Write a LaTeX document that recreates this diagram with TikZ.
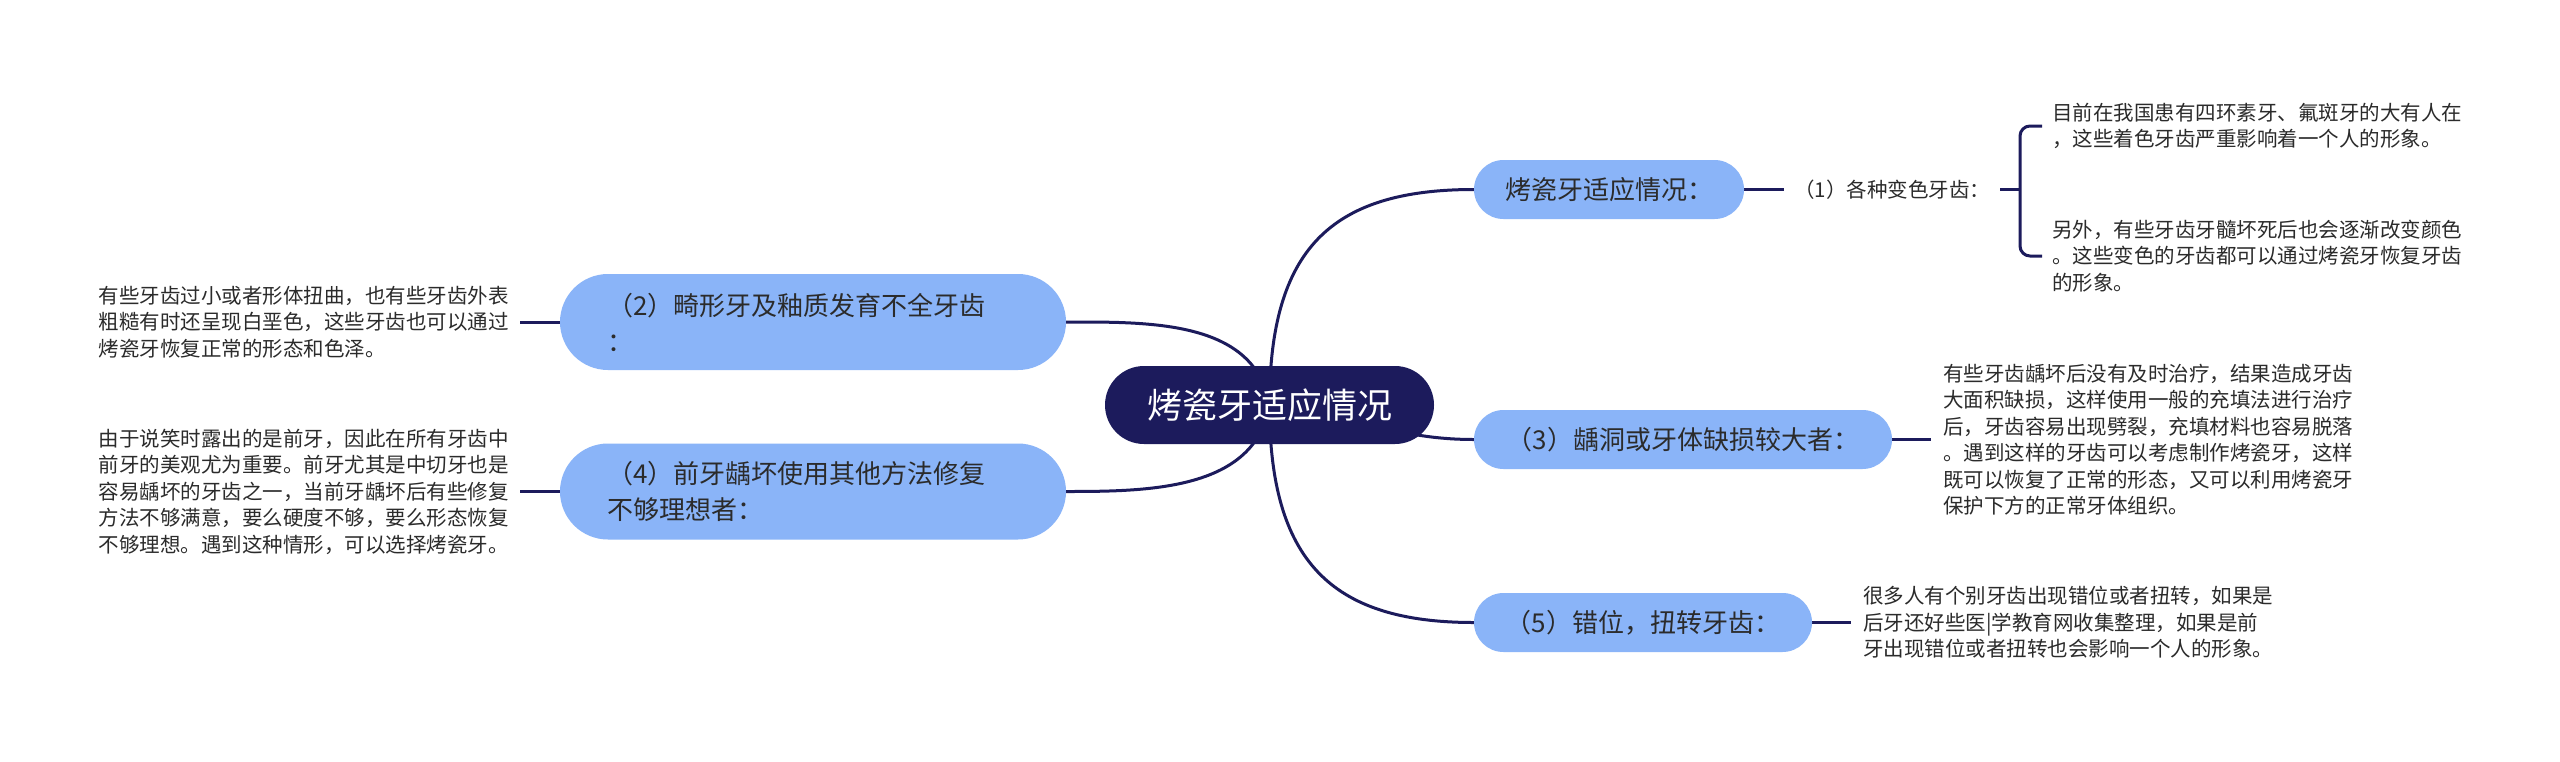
\documentclass[tikz,border=0pt]{standalone}
\usepackage{fontspec}
\setmainfont{Noto Sans CJK SC}
\pgfdeclarelayer{bg}
\pgfsetlayers{bg,main}
\definecolor{navy}{HTML}{1C1B5C}
\definecolor{branchblue}{HTML}{8AB4F8}
\definecolor{txt}{HTML}{2B2B2B}
\tikzset{
  rootbox/.style={fill=navy, text=white, rounded corners=39pt, minimum width=329pt, minimum height=78pt, inner sep=0pt, font=\fontsize{35}{42}\selectfont},
  branchbox/.style={fill=branchblue, text=txt, inner sep=0pt, font=\fontsize{26}{36}\selectfont},
  onebranch/.style={branchbox, rounded corners=29.5pt, minimum height=59pt},
  twobranch/.style={branchbox, rounded corners=48pt, minimum height=96pt, text width=412pt, inner xsep=47pt, align=left},
  leafnote/.style={text=txt, align=left, inner ysep=0pt, font=\fontsize{20.5}{26.5}\selectfont},
  conn/.style={draw=navy, line width=3pt},
}
\begin{document}
\begin{tikzpicture}[x=1pt,y=-1pt]
\useasboundingbox (0,0) rectangle (2560,761);
\begin{pgfonlayer}{bg}
\fill[white] (0,0) rectangle (2560,761);
\end{pgfonlayer}

\node[rootbox] (root) at (1269.5,405) {烤瓷牙适应情况};

\node[onebranch, minimum width=270pt] (n1) at (1609,189.5) {烤瓷牙适应情况：};
\node[onebranch, minimum width=418pt] (n3) at (1683,439.5) {（3）龋洞或牙体缺损较大者：};
\node[onebranch, minimum width=338pt] (n5) at (1643,622.5) {（5）错位，扭转牙齿：};
\node[twobranch] (n2) at (813,322) {（2）畸形牙及釉质发育不全牙齿\\：};
\node[twobranch] (n4) at (813,491.5) {（4）前牙龋坏使用其他方法修复\\不够理想者：};

\node[leafnote, anchor=west, inner xsep=10pt] (l1) at (1784,189.5) {（1）各种变色牙齿：};
\node[leafnote, anchor=west, inner xsep=10pt] (t1a) at (2042,126) {目前在我国患有四环素牙、氟斑牙的大有人在\\，这些着色牙齿严重影响着一个人的形象。};
\node[leafnote, anchor=west, inner xsep=10pt] (t1b) at (2042,256) {另外，有些牙齿牙髓坏死后也会逐渐改变颜色\\。这些变色的牙齿都可以通过烤瓷牙恢复牙齿\\的形象。};
\node[leafnote, anchor=west, inner xsep=12pt] (t3) at (1931,439.5) {有些牙齿龋坏后没有及时治疗，结果造成牙齿\\大面积缺损，这样使用一般的充填法进行治疗\\后，牙齿容易出现劈裂，充填材料也容易脱落\\。遇到这样的牙齿可以考虑制作烤瓷牙，这样\\既可以恢复了正常的形态，又可以利用烤瓷牙\\保护下方的正常牙体组织。};
\node[leafnote, anchor=west, inner xsep=12pt] (t5) at (1851,622.5) {很多人有个别牙齿出现错位或者扭转，如果是\\后牙还好些医|学教育网收集整理，如果是前\\牙出现错位或者扭转也会影响一个人的形象。};
\node[leafnote, anchor=east, inner xsep=11pt] (t2) at (520,322) {有些牙齿过小或者形体扭曲，也有些牙齿外表\\粗糙有时还呈现白垩色，这些牙齿也可以通过\\烤瓷牙恢复正常的形态和色泽。};
\node[leafnote, anchor=east, inner xsep=11pt] (t4) at (520,491.5) {由于说笑时露出的是前牙，因此在所有牙齿中\\前牙的美观尤为重要。前牙尤其是中切牙也是\\容易龋坏的牙齿之一，当前牙龋坏后有些修复\\方法不够满意，要么硬度不够，要么形态恢复\\不够理想。遇到这种情形，可以选择烤瓷牙。};

\coordinate (brk) at (2020,189.5);

\begin{pgfonlayer}{bg}
\draw[conn] (root.center) .. controls (1269.5,250) and (1330,189.5) .. (n1.west);
\draw[conn] (root.center) .. controls (1340,405) and (1380,439.5) .. (n3.west);
\draw[conn] (root.center) .. controls (1269.5,560) and (1330,622.5) .. (n5.west);
\draw[conn] (root.center) .. controls (1255,320) and (1150,322) .. (n2.east);
\draw[conn] (root.center) .. controls (1255,490) and (1150,491.5) .. (n4.east);
\draw[conn] (n1.east) -- (l1.west);
\draw[conn] (n3.east) -- (t3.west);
\draw[conn] (n5.east) -- (t5.west);
\draw[conn] (n2.west) -- (t2.east);
\draw[conn] (n4.west) -- (t4.east);
\draw[conn] (l1.east) -- (brk);
\draw[conn, rounded corners=10pt] (t1a.west) -| (brk) |- (t1b.west);
\end{pgfonlayer}
\end{tikzpicture}
\end{document}
